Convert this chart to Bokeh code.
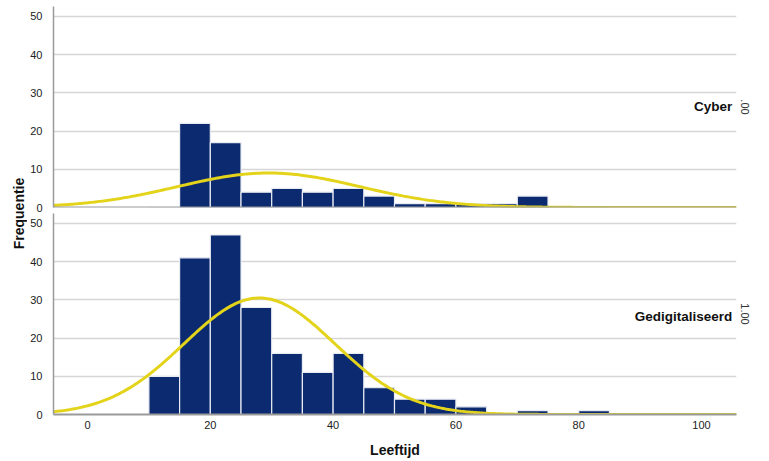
import numpy as np
from math import pi, sqrt
from bokeh.plotting import figure
from bokeh.models import Range1d, Label, LinearAxis, FixedTicker, Span
from bokeh.layouts import row, column
from bokeh.embed import file_html
from bokeh.resources import INLINE

# ---- data ----
bin_start = [10, 15, 20, 25, 30, 35, 40, 45, 50, 55, 60, 65, 70, 75, 80]
bin_width = 5
cyber_counts = [0, 22, 17, 4, 5, 4, 5, 3, 1, 1, 1, 1, 3, 0, 0]
gedig_counts = [10, 41, 47, 28, 16, 11, 16, 7, 4, 4, 2, 0, 1, 0, 1]
cyber_mean, cyber_sd = 29.5, 14.8
gedig_mean, gedig_sd = 28.0, 12.3
panel_names = ["Cyber", "Gedigitaliseerd"]
panel_codes = [".00", "1.00"]
x_ticks = [0, 20, 40, 60, 80, 100]
y_ticks = [0, 10, 20, 30, 40, 50]

FONT = "Liberation Sans"
BAR = "#0b2a6f"
CURVE = "#e3d41b"
GRID = "#d6d6d6"
AXIS = "#9a9a9a"
X0, X1 = -5.54, 105.7
YMAX = 52.6


def panel(counts, mean, sd, name, code, name_y, height, top_border, bottom_border, show_x):
    p = figure(width=739, height=height, x_range=Range1d(X0, X1), y_range=Range1d(0, YMAX),
               toolbar_location=None, output_backend="svg",
               min_border_left=26, min_border_right=30, min_border_top=top_border,
               min_border_bottom=bottom_border)
    p.outline_line_color = None
    p.background_fill_color = "white"
    p.xgrid.grid_line_color = None
    p.ygrid.grid_line_color = GRID
    p.ygrid.grid_line_width = 1.5
    p.ygrid.ticker = FixedTicker(ticks=y_ticks[1:])

    left = np.array(bin_start, dtype=float)
    p.quad(left=left, right=left + bin_width, bottom=0, top=counts,
           fill_color=BAR, line_color="#e8ebf2", line_width=1.2)

    n = sum(counts)
    xs = np.linspace(X0, X1, 400)
    ys = n * bin_width / (sd * sqrt(2 * pi)) * np.exp(-0.5 * ((xs - mean) / sd) ** 2)
    p.line(xs, ys, line_color=CURVE, line_width=3)

    ya = p.yaxis[0]
    ya.ticker = FixedTicker(ticks=y_ticks)
    ya.major_tick_line_color = None
    ya.minor_tick_line_color = None
    ya.major_label_standoff = 5
    ya.axis_line_color = AXIS
    ya.axis_line_width = 1.5
    ya.major_label_text_font = FONT
    ya.major_label_text_font_size = "11px"
    ya.major_label_text_color = "#222222"

    xa = p.xaxis[0]
    if show_x:
        xa.ticker = FixedTicker(ticks=x_ticks)
        xa.major_tick_line_color = None
        xa.minor_tick_line_color = None
        xa.major_label_standoff = 0
        xa.axis_line_color = AXIS
        xa.axis_line_width = 2
        xa.major_label_text_font = FONT
        xa.major_label_text_font_size = "11px"
        xa.major_label_text_color = "#222222"
        xa.axis_label = "Leeftijd"
        xa.axis_label_standoff = 10
        xa.axis_label_text_font = FONT
        xa.axis_label_text_font_size = "14px"
        xa.axis_label_text_font_style = "bold"
        xa.axis_label_text_color = "#111111"
    else:
        xa.visible = False
        p.add_layout(Span(location=0, dimension="width", line_color=AXIS, line_width=2))

    ra = LinearAxis(ticker=FixedTicker(ticks=[]), axis_label=code,
                    axis_line_color=None, major_tick_line_color=None,
                    minor_tick_line_color=None, major_label_standoff=0,
                    major_tick_out=0, axis_label_standoff=4,
                    axis_label_text_font=FONT, axis_label_text_font_size="11px",
                    axis_label_text_font_style="normal", axis_label_text_color="#333333")
    p.add_layout(ra, "right")

    p.add_layout(Label(x=105.0, y=name_y, text=name,
                       text_align="right", text_baseline="middle",
                       text_font=FONT, text_font_size="13.5px", text_font_style="bold",
                       text_color="#111111"))
    return p


p1 = panel(cyber_counts, cyber_mean, cyber_sd, panel_names[0], panel_codes[0], 26.4,
           213, 6, 6, False)
p2 = panel(gedig_counts, gedig_mean, gedig_sd, panel_names[1], panel_codes[1], 25.7,
           247, 0, 46, True)

lf = figure(width=27, height=460, x_range=Range1d(0, 27), y_range=Range1d(0, 460),
            toolbar_location=None, output_backend="svg", min_border=0)
lf.axis.visible = False
lf.grid.visible = False
lf.outline_line_color = None
lf.add_layout(Label(x=18, y=247, text="Frequentie", angle=pi / 2,
                    text_align="center", text_baseline="middle",
                    text_font=FONT, text_font_size="14px", text_font_style="bold",
                    text_color="#111111"))

layout = row(lf, column(p1, p2))
open("out.html", "w").write(file_html(layout, INLINE))
